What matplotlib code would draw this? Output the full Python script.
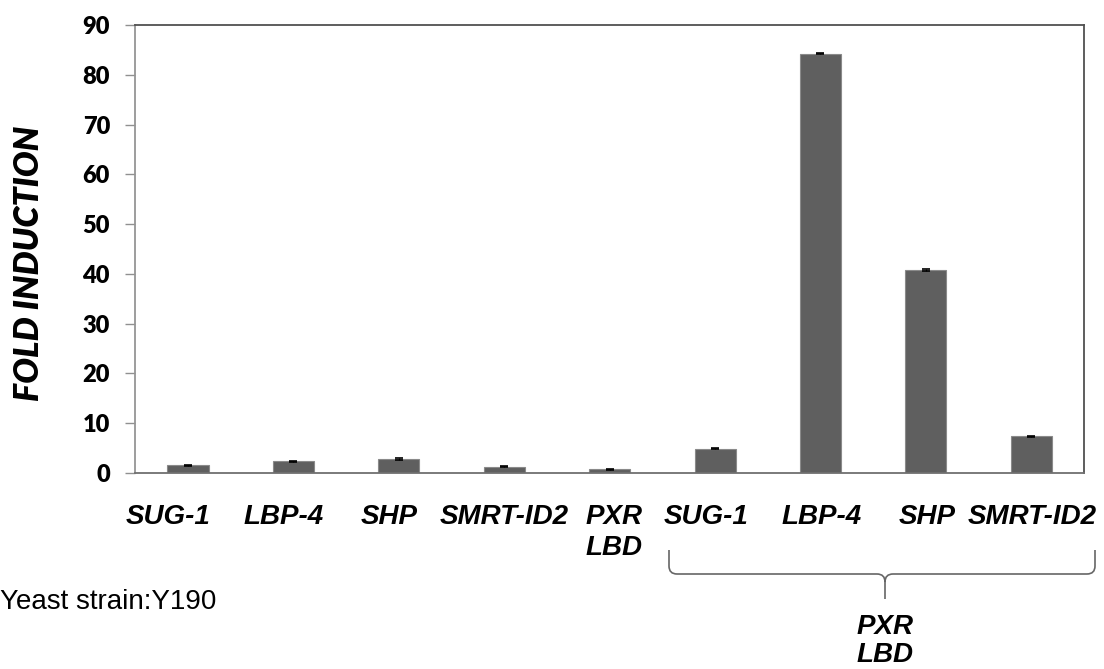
import matplotlib
import numpy as np
from matplotlib import pyplot as plt
from matplotlib.path import Path
from matplotlib.patches import PathPatch
from matplotlib.transforms import ScaledTranslation

matplotlib.use("Agg")

categories = ["SUG-1", "LBP-4", "SHP", "SMRT-ID2", "PXR\nLBD",
              "SUG-1", "LBP-4", "SHP", "SMRT-ID2"]
fold_induction = [1.55, 2.35, 2.8, 1.3, 0.75, 4.9, 84.2, 40.8, 7.4]
errors = [0.12, 0.12, 0.12, 0.12, 0.12, 0.12, 0.12, 0.12, 0.12]
y_ticks = [0, 10, 20, 30, 40, 50, 60, 70, 80, 90]

W, H = 1104, 669
fig = plt.figure(figsize=(W / 100, H / 100), dpi=100)
ax = fig.add_axes([135 / W, 1 - 473 / H, (1084 - 135) / W, (473 - 25) / H])

x = np.arange(len(categories))
ax.bar(x, fold_induction, width=0.39, color="#5f5f5f", edgecolor="#8a8a8a",
       linewidth=0.8, zorder=2)
ax.errorbar(x, fold_induction, yerr=errors, fmt="none", ecolor="black",
            elinewidth=0.8, capsize=3.2, capthick=1.2, zorder=3)

ax.set_xlim(-0.503, 8.5)
ax.set_ylim(0, 90)
ax.set_yticks(y_ticks)
ax.set_yticklabels([str(v) for v in y_ticks], fontfamily="Lato",
                   fontweight="heavy", fontsize=17)
ax.tick_params(axis="y", length=7, width=1.0, color="#909090", pad=11)

ax.set_xticks(x)
ax.set_xticklabels(categories, fontfamily="Liberation Sans", fontweight="bold",
                   fontstyle="italic", fontsize=20)
ax.tick_params(axis="x", length=0, pad=22)
# small horizontal shifts of the hand-placed labels (pixels)
label_shift = [-20, -10, -10, 0, 4, -9, 1, 1, 1]
for lab, dx in zip(ax.get_xticklabels(), label_shift):
    lab.set_linespacing(1.25)
    lab.set_transform(lab.get_transform() + ScaledTranslation(dx / 100, 0, fig.dpi_scale_trans))

ax.spines["left"].set_color("#959595")
ax.spines["bottom"].set_color("#707070")
ax.spines["top"].set_color("#505050")
ax.spines["right"].set_color("#505050")
for s in ax.spines.values():
    s.set_linewidth(1.3)

fig.text(29 / W, 1 - 263 / H, "FOLD INDUCTION", rotation=90, ha="center",
         va="center", fontfamily="Lato", fontweight="heavy", fontstyle="italic",
         fontsize=24.5)

fig.text(0, 1 - 602 / H, "Yeast strain:Y190", ha="left", va="center",
         fontfamily="Liberation Sans", fontsize=20)


# brace under the second group
def px(xp, yp):
    return (xp / W, 1 - yp / H)


verts = [px(669, 550), px(669, 566), px(669, 574), px(677, 574), px(877, 574),
         px(885, 574), px(885, 582), px(885, 599),
         px(885, 582), px(885, 574), px(893, 574), px(1087, 574),
         px(1095, 574), px(1095, 566), px(1095, 550)]
codes = [Path.MOVETO, Path.LINETO, Path.CURVE3, Path.CURVE3, Path.LINETO,
         Path.CURVE3, Path.CURVE3, Path.LINETO,
         Path.MOVETO, Path.CURVE3, Path.CURVE3, Path.LINETO,
         Path.CURVE3, Path.CURVE3, Path.LINETO]
brace = PathPatch(Path(verts, codes), transform=fig.transFigure, fill=False,
                  edgecolor="#666666", linewidth=1.2)
fig.add_artist(brace)

fig.text(885 / W, 1 - 641 / H, "PXR\nLBD", ha="center", va="center",
         fontfamily="Liberation Sans", fontweight="bold", fontstyle="italic",
         fontsize=20, linespacing=1.1)

fig.savefig("out.png", dpi=100)
